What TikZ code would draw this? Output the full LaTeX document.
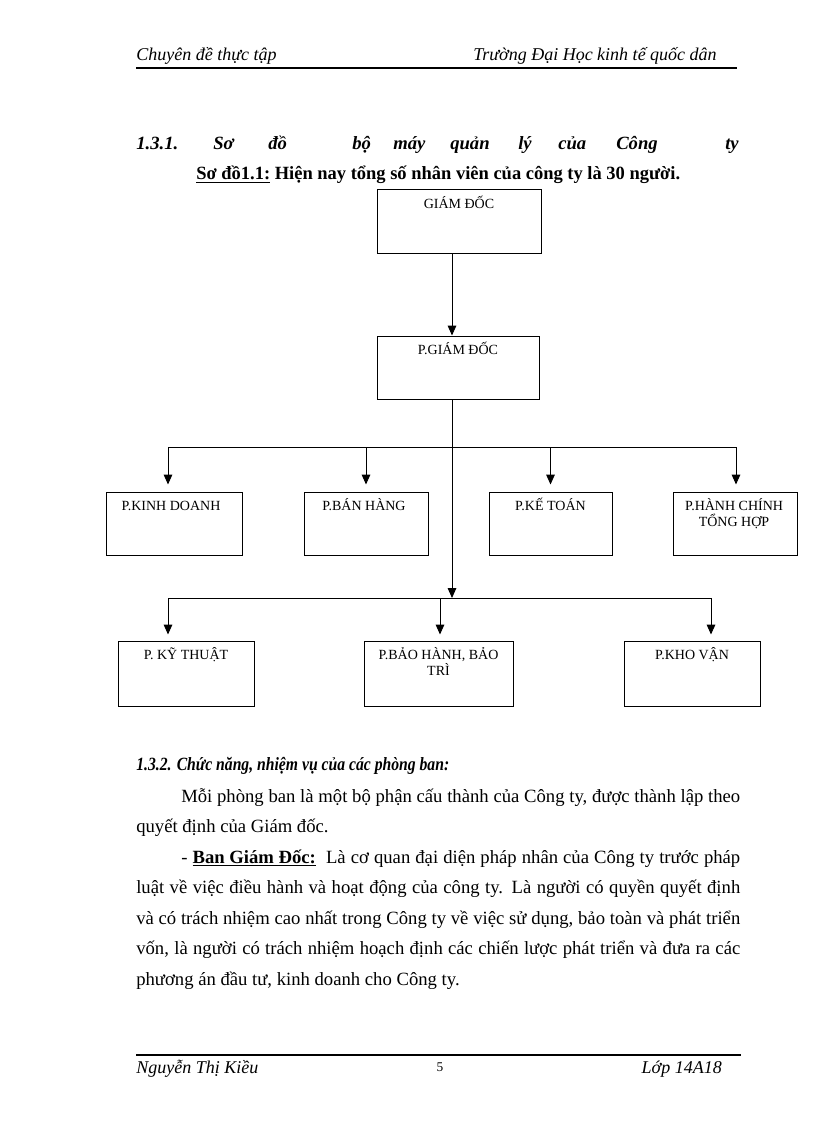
\documentclass[tikz,border=0pt]{standalone}
\usepackage{fontspec}
\usepackage{graphicx}
\setmainfont{Liberation Serif}
\usetikzlibrary{arrows.meta,calc}
\begin{document}
\begin{tikzpicture}[x=0.75pt,y=-0.75pt,
  box/.style n args={2}{draw, line width=0.75pt, inner sep=0pt, minimum width=#1*0.75pt, minimum height=#2*0.75pt},
  lbl/.style={font=\fontsize{10.5}{12}\selectfont, anchor=base, inner sep=0pt},
  txt/.style={font=\fontsize{14}{16}\selectfont, anchor=base west, inner sep=0pt},
  btxt/.style={font=\fontsize{14}{16}\selectfont\bfseries, anchor=base west, inner sep=0pt},
  bitxt/.style={font=\fontsize{14}{16}\selectfont\bfseries\itshape, anchor=base west, inner sep=0pt},
  hdr/.style={font=\fontsize{13.5}{15}\selectfont\itshape, inner sep=0pt},
  ln/.style={line width=0.75pt},
  arr/.style={line width=0.75pt, -{Triangle[length=7.5pt,width=6.5pt]}},
  rulel/.style={line width=1.5pt}]
\useasboundingbox (0,0) rectangle (816,1123);

% header
\node[hdr, anchor=base west] (h1) at (136,61) {Chuyên đề thực tập};
\node[hdr, anchor=base east] (h2) at (717,61) {Trường Đại Học kinh tế quốc dân};
\coordinate (r1a) at (136,68);
\coordinate (r1b) at (737,68);
\draw[rulel] (r1a) -- (r1b);

% heading 1.3.1
\foreach \w/\x [count=\i] in {1.3.1./136, Sơ/213, đồ/268, bộ/352, máy/393, quản/450, lý/518, của/558, Công/616, ty/725}
  \node[bitxt] (w\i) at (\x,150) {\w};

\node[btxt] (cap) at (196,180) {\scalebox{0.99}[1]{\underline{Sơ đồ1.1:} Hiện nay tổng số nhân viên của công ty là 30 người.}};

% boxes
\node[box={164}{63}] (gd) at (459,221.5) {};
\node[box={162}{63}] (pgd) at (458,367.5) {};
\node[box={136}{63}] (kd) at (174,523.5) {};
\node[box={124}{63}] (bh) at (366,523.5) {};
\node[box={123}{63}] (kt) at (550.5,523.5) {};
\node[box={124}{63}] (hc) at (735,523.5) {};
\node[box={136}{65}] (kth) at (186,673.5) {};
\node[box={149}{65}] (bhbt) at (438.5,673.5) {};
\node[box={136}{65}] (kv) at (692,673.5) {};

% labels
\node[lbl] (gdt) at ($(gd.north)+(0,19)$) {GIÁM ĐỐC};
\node[lbl] (pgdt) at ($(pgd.north)+(0,19)$) {P.GIÁM ĐỐC};
\node[lbl] (kdt) at ($(kd.north)+(-3,19)$) {P.KINH DOANH};
\node[lbl] (bht) at ($(bh.north)+(-2,19)$) {P.BÁN HÀNG};
\node[lbl] (ktt) at ($(kt.north)+(0,19)$) {P.KẾ TOÁN};
\node[lbl] (hct1) at ($(hc.north)+(-1,19)$) {P.HÀNH CHÍNH};
\node[lbl] (hct2) at ($(hc.north)+(-1,35)$) {TỔNG HỢP};
\node[lbl] (ktht) at ($(kth.north)+(0,19)$) {P. KỸ THUẬT};
\node[lbl] (bhbtt1) at ($(bhbt.north)+(0,19)$) {P.BẢO HÀNH, BẢO};
\node[lbl] (bhbtt2) at ($(bhbt.north)+(0,35)$) {TRÌ};
\node[lbl] (kvt) at ($(kv.north)+(0,19)$) {P.KHO VẬN};

% connectors
\coordinate (trunk) at (452,0);
\coordinate (bus1L) at (168,447);
\coordinate (bus1R) at (736,447);
\coordinate (bus2L) at (168,598);
\coordinate (bus2R) at (711,598);
\coordinate (bus2M) at (440,598);
\draw[arr] (gd.south -| trunk) -- (pgd.north -| trunk);
\draw[ln] (bus1L) -- (bus1R);
\draw[ln] (bus2L) -- (bus2R);
\draw[arr] (pgd.south -| trunk) -- (bus2L -| trunk);
\draw[arr] (bus1L) -- ($(kd.north -| bus1L)+(0,-7)$);
\draw[arr] (bus1L -| bh) -- ($(bh.north)+(0,-7)$);
\draw[arr] (bus1L -| kt) -- ($(kt.north)+(0,-7)$);
\draw[arr] (bus1R) -- ($(hc.north -| bus1R)+(0,-7)$);
\draw[arr] (bus2L) -- ($(kth.north -| bus2L)+(0,-6)$);
\draw[arr] (bus2M) -- ($(bhbt.north -| bus2M)+(0,-6)$);
\draw[arr] (bus2R) -- ($(kv.north -| bus2R)+(0,-6)$);

% body text
\node[bitxt] (s2) at (136,770) {\scalebox{0.84}[1]{1.3.2. Chức năng, nhiệm vụ của các phòng ban:}};
\node[txt] (p1) at (181,802) {\hbox to 419.25pt{Mỗi phòng ban là một bộ phận cấu thành của Công ty, được thành lập theo}};
\node[txt] (p2) at (136,832) {quyết định của Giám đốc.};
\node[txt] (p3) at (181,863) {\hbox to 419.25pt{- \textbf{\underline{Ban Giám Đốc:}}\ \ Là cơ quan đại diện pháp nhân của Công ty trước pháp}};
\node[txt] (p4) at (136,893) {\hbox to 453pt{luật về việc điều hành và hoạt động của công ty. Là người có quyền quyết định}};
\node[txt] (p5) at (136,924) {\hbox to 453pt{và có trách nhiệm cao nhất trong Công ty về việc sử dụng, bảo toàn và phát triển}};
\node[txt] (p6) at (136,954) {\hbox to 453pt{vốn, là người có trách nhiệm hoạch định các chiến lược phát triển và đưa ra các}};
\node[txt] (p7) at (136,985) {phương án đầu tư, kinh doanh cho Công ty.};

% footer
\coordinate (r2a) at (136,1055);
\coordinate (r2b) at (741,1055);
\draw[rulel] (r2a) -- (r2b);
\node[hdr, anchor=base west] (f1) at (136,1073) {Nguyễn Thị Kiều};
\node[font=\fontsize{10}{12}\selectfont, anchor=base, inner sep=0pt] (f2) at (440,1071) {5};
\node[hdr, anchor=base east] (f3) at (722,1073) {Lớp 14A18};
\end{tikzpicture}
\end{document}
